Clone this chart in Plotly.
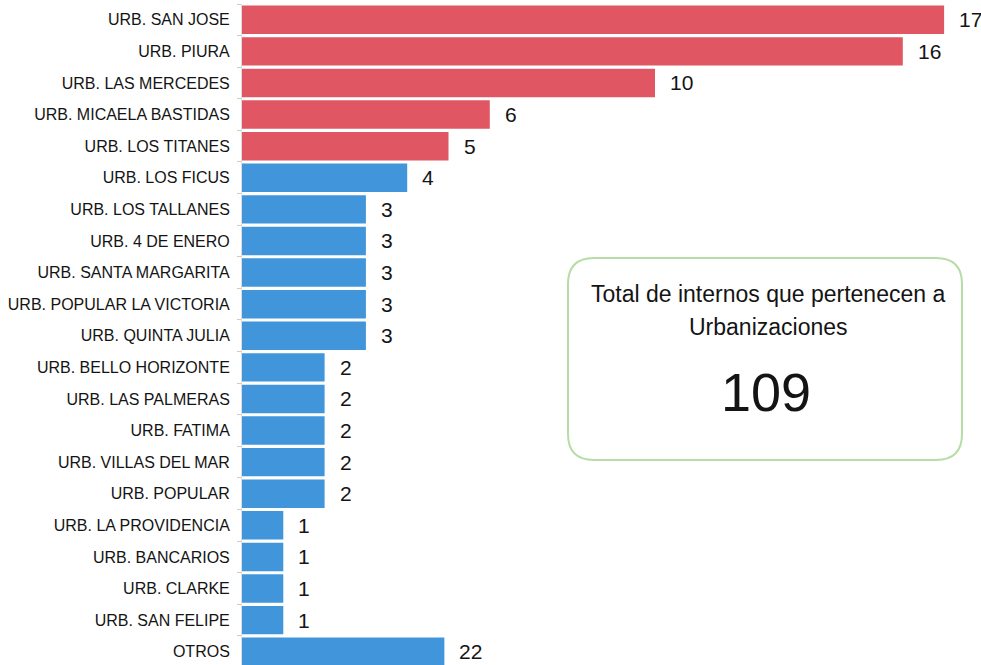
import plotly.graph_objects as go

categories = ["URB. SAN JOSE", "URB. PIURA", "URB. LAS MERCEDES", "URB. MICAELA BASTIDAS",
              "URB. LOS TITANES", "URB. LOS FICUS", "URB. LOS TALLANES", "URB. 4 DE ENERO",
              "URB. SANTA MARGARITA", "URB. POPULAR LA VICTORIA", "URB. QUINTA JULIA",
              "URB. BELLO HORIZONTE", "URB. LAS PALMERAS", "URB. FATIMA", "URB. VILLAS DEL MAR",
              "URB. POPULAR", "URB. LA PROVIDENCIA", "URB. BANCARIOS", "URB. CLARKE",
              "URB. SAN FELIPE", "OTROS"]
values = [17, 16, 10, 6, 5, 4, 3, 3, 3, 3, 3, 2, 2, 2, 2, 2, 1, 1, 1, 1, 22]
# drawn bar length in the reference (OTROS bar is shortened in the original)
bar_lengths = [17, 16, 10, 6, 5, 4, 3, 3, 3, 3, 3, 2, 2, 2, 2, 2, 1, 1, 1, 1, 4.9]
total = 109
box_title_lines = ["Total de internos que pertenecen a", "Urbanizaciones"]

RED = "#E05763"
BLUE = "#4196DB"
colors = [RED if i < 5 else BLUE for i in range(len(categories))]

FONT = "Liberation Sans, Arial, sans-serif"

fig = go.Figure(go.Bar(
    x=bar_lengths, y=categories, orientation="h",
    marker=dict(color=colors, line=dict(width=0)),
    hoverinfo="skip",
))

for c, v, L in zip(categories, values, bar_lengths):
    fig.add_annotation(x=L, y=c, text=str(v), showarrow=False, xanchor="left",
                       xshift=13, font=dict(family=FONT, size=21, color="#141414"))

W, H = 981, 665
ml, mt, mr, mb = 242, 4, 0, 0
pw, ph = W - ml - mr, H - mt - mb

def px(x):
    return (x - ml) / pw

def py(y):
    return 1 - (y - mt) / ph

x0, x1, y0, y1 = px(568), px(962), py(258), py(460)
rx, ry = 26 / pw, 26 / ph
path = (f"M {x0+rx},{y0} L {x1-rx},{y0} Q {x1},{y0} {x1},{y0-ry} "
        f"L {x1},{y1+ry} Q {x1},{y1} {x1-rx},{y1} L {x0+rx},{y1} "
        f"Q {x0},{y1} {x0},{y1+ry} L {x0},{y0-ry} Q {x0},{y0} {x0+rx},{y0} Z")
fig.add_shape(type="path", path=path, xref="paper", yref="paper",
              line=dict(color="#B6DDA6", width=2), fillcolor="white")

for line, yy in zip(box_title_lines, [294, 327]):
    fig.add_annotation(x=px(768), y=py(yy), xref="paper", yref="paper", text=line,
                       showarrow=False, xanchor="center", yanchor="middle",
                       font=dict(family=FONT, size=23, color="#141414"))
fig.add_annotation(x=px(766), y=py(392), xref="paper", yref="paper", text=str(total),
                   showarrow=False, xanchor="center", yanchor="middle",
                   font=dict(family=FONT, size=54, color="#141414"))

fig.update_layout(
    width=W, height=H, margin=dict(l=ml, r=mr, t=mt, b=mb),
    paper_bgcolor="white", plot_bgcolor="white", showlegend=False,
    bargap=0.1,
    xaxis=dict(range=[0, pw / 41.3], visible=False, fixedrange=True),
    yaxis=dict(type="category", range=[20.42, -0.5], tickson="boundaries",
               ticks="outside", ticklen=4, tickcolor="#cccccc",
               showline=True, linecolor="#dddddd", linewidth=1, showgrid=False,
               ticklabelstandoff=8, fixedrange=True,
               tickfont=dict(family=FONT, size=16, color="#141414")),
)

fig.write_html("out.html", config={"displayModeBar": False},
               post_script="document.body.style.margin='0';")
